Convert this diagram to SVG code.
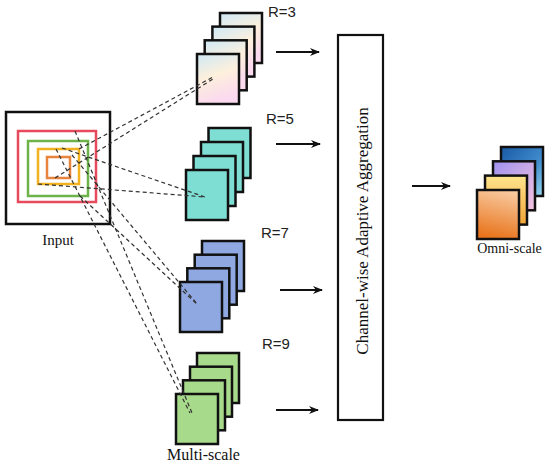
<svg xmlns="http://www.w3.org/2000/svg" width="550" height="468" viewBox="0 0 550 468">
<style>
.card{stroke:#111;stroke-width:2.5}
.sq{fill:none;stroke-width:2.5}
.dash{stroke:#333;stroke-width:1.2;stroke-dasharray:4 3;fill:none}
.arr{stroke:#111;stroke-width:2;fill:none}
.lab{font-family:"Liberation Sans",Arial,sans-serif;font-size:15px;fill:#222}
.ser{font-family:"Liberation Serif","Times New Roman",serif;fill:#111}
</style>
<defs>
<marker id="ah" markerWidth="10" markerHeight="10" refX="9" refY="5" orient="auto" markerUnits="userSpaceOnUse">
<path d="M0,1 L10,5 L0,9 L3,5 Z" fill="#111"/>
</marker>
<linearGradient id="g3" x1="0" y1="0" x2="0.3" y2="1">
<stop offset="0" stop-color="#cfe9f7"/><stop offset="0.5" stop-color="#fdf0dc"/><stop offset="1" stop-color="#fbd9ef"/>
</linearGradient>
<linearGradient id="o1" x1="0.6" y1="0" x2="0.4" y2="1">
<stop offset="0" stop-color="#f8c99e"/><stop offset="1" stop-color="#e8731a"/>
</linearGradient>
<linearGradient id="o2" x1="0.5" y1="0" x2="0.5" y2="1">
<stop offset="0" stop-color="#ffe58e"/><stop offset="1" stop-color="#f3a535"/>
</linearGradient>
<linearGradient id="o3" x1="0" y1="0" x2="1" y2="1">
<stop offset="0" stop-color="#9f92ee"/><stop offset="1" stop-color="#f5c3df"/>
</linearGradient>
<linearGradient id="o4" x1="0" y1="0" x2="1" y2="1">
<stop offset="0" stop-color="#1a5aa6"/><stop offset="0.6" stop-color="#3f8ccc"/><stop offset="1" stop-color="#9ad8f2"/>
</linearGradient>
</defs>

<g id="input">
<rect x="6" y="112" width="104" height="112" class="sq" stroke="#111"/>
<rect x="18" y="131" width="78" height="71" class="sq" stroke="#e64a5c"/>
<rect x="28" y="141" width="60" height="55" class="sq" stroke="#6cb34a"/>
<rect x="38" y="149" width="41" height="35" class="sq" stroke="#f2b21f"/>
<rect x="47" y="157" width="23" height="21" class="sq" stroke="#e8843c"/>
<text x="58" y="245" text-anchor="middle" class="ser" font-size="15">Input</text>
</g>

<g id="stack-r3">
<rect x="220" y="13" width="42" height="50" class="card" fill="url(#g3)"/>
<rect x="212.4" y="26.6" width="42" height="50" class="card" fill="url(#g3)"/>
<rect x="204.7" y="40.3" width="42" height="50" class="card" fill="url(#g3)"/>
<rect x="197" y="54" width="42" height="50" class="card" fill="url(#g3)"/>
<text x="268" y="17" class="lab">R=3</text>
</g>

<g id="stack-r5">
<rect x="208.5" y="128" width="42" height="50" class="card" fill="#7fded3"/>
<rect x="201" y="142" width="42" height="50" class="card" fill="#7fded3"/>
<rect x="193.5" y="156" width="42" height="50" class="card" fill="#7fded3"/>
<rect x="186" y="170" width="42" height="50" class="card" fill="#7fded3"/>
<text x="266" y="124" class="lab">R=5</text>
</g>

<g id="stack-r7">
<rect x="202" y="241" width="42" height="50" class="card" fill="#8fa8e2"/>
<rect x="194.7" y="254.7" width="42" height="50" class="card" fill="#8fa8e2"/>
<rect x="187.3" y="268.3" width="42" height="50" class="card" fill="#8fa8e2"/>
<rect x="180" y="282" width="42" height="50" class="card" fill="#8fa8e2"/>
<text x="261" y="238" class="lab">R=7</text>
</g>

<g id="stack-r9">
<rect x="197" y="353" width="42" height="50" class="card" fill="#a8da8c"/>
<rect x="190" y="366.7" width="42" height="50" class="card" fill="#a8da8c"/>
<rect x="183" y="380.3" width="42" height="50" class="card" fill="#a8da8c"/>
<rect x="176" y="394" width="42" height="50" class="card" fill="#a8da8c"/>
<text x="262" y="349" class="lab">R=9</text>
<text x="203.5" y="460" text-anchor="middle" class="ser" font-size="16">Multi-scale</text>
</g>

<g id="aggregation">
<rect x="338" y="35" width="45" height="385" fill="#fff" stroke="#111" stroke-width="2.2"/>
<text transform="translate(368,231) rotate(-90)" text-anchor="middle" class="ser" font-size="17">Channel-wise Adaptive Aggregation</text>
</g>

<g id="omni">
<rect x="501" y="147" width="42" height="49" class="card" fill="url(#o4)"/>
<rect x="493" y="161.3" width="42" height="49" class="card" fill="url(#o3)"/>
<rect x="485" y="175.6" width="42" height="49" class="card" fill="url(#o2)"/>
<rect x="477" y="190" width="42" height="49" class="card" fill="url(#o1)"/>
<text x="509.5" y="253" text-anchor="middle" class="ser" font-size="14">Omni-scale</text>
</g>

<g id="connectors">
<line x1="79" y1="149" x2="213" y2="77" class="dash"/>
<line x1="55" y1="178" x2="213" y2="79" class="dash"/>
<line x1="62" y1="148" x2="205" y2="197" class="dash"/>
<line x1="38" y1="184" x2="205" y2="197" class="dash"/>
<line x1="72" y1="155" x2="198" y2="305" class="dash"/>
<line x1="80" y1="196" x2="198" y2="305" class="dash"/>
<line x1="75" y1="131" x2="192" y2="413" class="dash"/>
<line x1="56" y1="149" x2="190" y2="413" class="dash"/>
<line x1="276" y1="52" x2="319" y2="52" class="arr" marker-end="url(#ah)"/>
<line x1="276" y1="144" x2="320" y2="144" class="arr" marker-end="url(#ah)"/>
<line x1="280" y1="290" x2="322" y2="290" class="arr" marker-end="url(#ah)"/>
<line x1="276" y1="410" x2="318" y2="410" class="arr" marker-end="url(#ah)"/>
<line x1="412" y1="186" x2="450" y2="186" class="arr" marker-end="url(#ah)"/>
</g>
</svg>
